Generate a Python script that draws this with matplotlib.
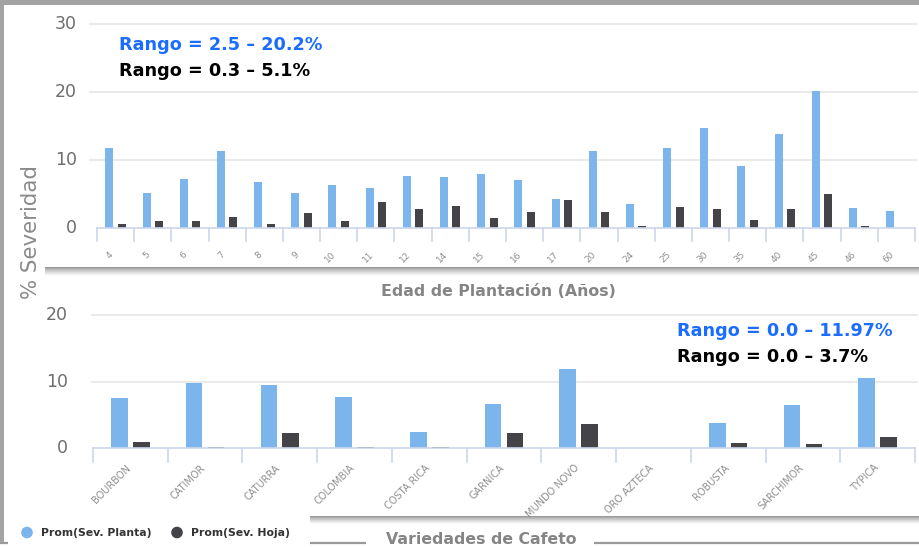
import numpy as np
import matplotlib
matplotlib.use("Agg")
import matplotlib.pyplot as plt
from matplotlib.patches import Rectangle, Circle
from matplotlib.lines import Line2D

# ---------------- data ----------------
edad_labels = ["4", "5", "6", "7", "8", "9", "10", "11", "12", "14", "15", "16",
               "17", "20", "24", "25", "30", "35", "40", "45", "46", "60"]
edad_planta = [11.8, 5.2, 7.3, 11.3, 6.8, 5.2, 6.4, 5.9, 7.7, 7.5, 8.0, 7.1,
               4.3, 11.3, 3.6, 11.8, 14.8, 9.2, 13.9, 20.2, 3.0, 2.5]
edad_hoja = [0.7, 1.0, 1.0, 1.7, 0.7, 2.2, 1.0, 3.8, 2.8, 3.3, 1.5, 2.4,
             4.1, 2.4, 0.3, 3.1, 2.8, 1.2, 2.8, 5.1, 0.3, 0.0]

var_labels = ["BOURBON", "CATIMOR", "CATURRA", "COLOMBIA", "COSTA RICA", "GARNICA",
              "MUNDO NOVO", "ORO AZTECA", "ROBUSTA", "SARCHIMOR", "TYPICA"]
var_planta = [7.5, 9.75, 9.5, 7.75, 2.4, 6.7, 11.97, 0.0, 3.85, 6.5, 10.5]
var_hoja = [1.0, 0.2, 2.25, 0.2, 0.2, 2.25, 3.6, 0.0, 0.8, 0.65, 1.65]

top_yticks = [0, 10, 20, 30]
bot_yticks = [0, 10, 20]

series_names = ["Prom(Sev. Planta)", "Prom(Sev. Hoja)"]
rango_top = ["Rango = 2.5 \u2013 20.2%", "Rango = 0.3 \u2013 5.1%"]
rango_bot = ["Rango = 0.0 \u2013 11.97%", "Rango = 0.0 \u2013 3.7%"]

# ---------------- style ----------------
W, H = 919, 547
C_BLUE = "#7cb5ec"
C_DARK = "#434348"
C_GRID = "#e6e6e6"
C_AXIS = "#ccd6eb"
C_FRAME = "#a3a3a3"
C_TXT_BLUE = "#1a6dff"

fig = plt.figure(figsize=(W / 100, H / 100), dpi=100)
fig.patch.set_facecolor("white")


def fx(x):
    return x / W


def fy(y):
    return 1 - y / H


# ---------- frame decorations (figure pixel coordinates) ----------
bg = fig.add_axes([0, 0, 1, 1], zorder=-5)
bg.set_xlim(0, W)
bg.set_ylim(H, 0)
bg.axis("off")
# top gray band and left gray line
bg.add_patch(Rectangle((0, 0), W, 4.5, color=C_FRAME, lw=0))
bg.add_patch(Rectangle((0, 0), 3.5, 543, color=C_FRAME, lw=0))
# shadows below panels
grad = np.linspace(0, 1, 50).reshape(-1, 1)
grad_img = np.dstack([np.ones_like(grad)] * 3)
sh = 0.55 + 0.45 * grad ** 0.7
shadow = np.dstack([sh, sh, sh])
bg.imshow(shadow, extent=(45, W, 276, 267.5), aspect="auto", zorder=1)
bg.imshow(shadow, extent=(310, W, 524, 516.5), aspect="auto", zorder=1)
# lines at the bottom
for x0, x1 in [(0, 8), (310, 366), (594, W)]:
    bg.plot([x0, x1], [542.5, 542.5], color="#9a9a9a", lw=1.6, solid_capstyle="butt")

# axis titles
bg.text(31, 232, "% Severidad", rotation=90, ha="center", va="center",
        fontsize=15.4, color="#8a8a8a", family="DejaVu Sans")
bg.text(498, 291, "Edad de Plantación (Años)", ha="center", va="center",
        fontsize=11.3, fontweight="bold", color="#858585", family="DejaVu Sans")
bg.text(481, 540, "Variedades de Cafeto", ha="center", va="center",
        fontsize=11.3, fontweight="bold", color="#858585", family="DejaVu Sans")

# legend
leg_items = [(27, C_BLUE, series_names[0], 41), (177, C_DARK, series_names[1], 191)]
for cx, col, name, tx in leg_items:
    bg.add_patch(Circle((cx, 532.5), 5.8, color=col, lw=0, zorder=3))
    bg.text(tx, 533, name, ha="left", va="center", fontsize=7.8,
            fontweight="bold", color="#333333", family="DejaVu Sans")


def make_panel(left, right, y0px, ytoppx, ymax, labels, planta, hoja,
               yticks, width, offset, grid_x0, grid_x1, ytick_right,
               tick_len, lab_dy, lab_dx, lab_fs, ytick_fs):
    n = len(labels)
    ax = fig.add_axes([fx(left), fy(y0px), fx(right - left), (y0px - ytoppx) / H])
    ax.set_xlim(-0.5, n - 0.5)
    ax.set_ylim(0, ymax)
    ax.axis("off")
    cw = (right - left) / n          # px per category
    ppu = (y0px - ytoppx) / ymax     # px per value unit
    x = np.arange(n)
    ax.bar(x - offset, planta, width=width, color=C_BLUE, lw=0, zorder=3)
    ax.bar(x + offset, hoja, width=width, color=C_DARK, lw=0, zorder=3)
    gx0 = -0.5 + (grid_x0 - left) / cw
    gx1 = -0.5 + (grid_x1 - left) / cw
    for yt in yticks:
        if yt == 0:
            ax.plot([-0.5, n - 0.5], [0, 0], color=C_AXIS, lw=1.2, zorder=4,
                    clip_on=False)
        else:
            ax.plot([gx0, gx1], [yt, yt], color=C_GRID, lw=1.2, zorder=1,
                    clip_on=False)
        ax.text(-0.5 + (ytick_right - left) / cw, yt, str(yt), ha="right",
                va="center", fontsize=ytick_fs, color="#6e6e6e",
                family="DejaVu Sans", clip_on=False)
    for b in np.arange(n + 1) - 0.5:
        ax.plot([b, b], [0, -tick_len / ppu], color=C_AXIS, lw=1.2,
                clip_on=False, zorder=4)
    for i, lab in enumerate(labels):
        ax.text(i + lab_dx / cw, -lab_dy / ppu, lab, rotation=45, ha="right",
                va="center", rotation_mode="anchor", fontsize=lab_fs,
                color="#8f8f8f", family="DejaVu Sans", clip_on=False)
    return ax


ax1 = make_panel(97, 915, 228.3, 24.0, 30, edad_labels, edad_planta, edad_hoja,
                 top_yticks, 0.215, 0.168, 90, 917, 77, 13, 25, -4, 6.5, 12.5)
ax2 = make_panel(93, 915, 448.3, 315.0, 20, var_labels, var_planta, var_hoja,
                 bot_yticks, 0.223, 0.147, 92, 917, 68, 14, 18, -1, 7.0, 12.5)

# range annotations
bg.text(119, 45, rango_top[0], ha="left", va="center", fontsize=12.7,
        fontweight="bold", color=C_TXT_BLUE, family="DejaVu Sans")
bg.text(119, 71, rango_top[1], ha="left", va="center", fontsize=12.7,
        fontweight="bold", color="black", family="DejaVu Sans")
bg.text(677, 331, rango_bot[0], ha="left", va="center", fontsize=12.7,
        fontweight="bold", color=C_TXT_BLUE, family="DejaVu Sans")
bg.text(677, 357, rango_bot[1], ha="left", va="center", fontsize=12.7,
        fontweight="bold", color="black", family="DejaVu Sans")

fig.savefig("out.png", dpi=100, facecolor="white")
